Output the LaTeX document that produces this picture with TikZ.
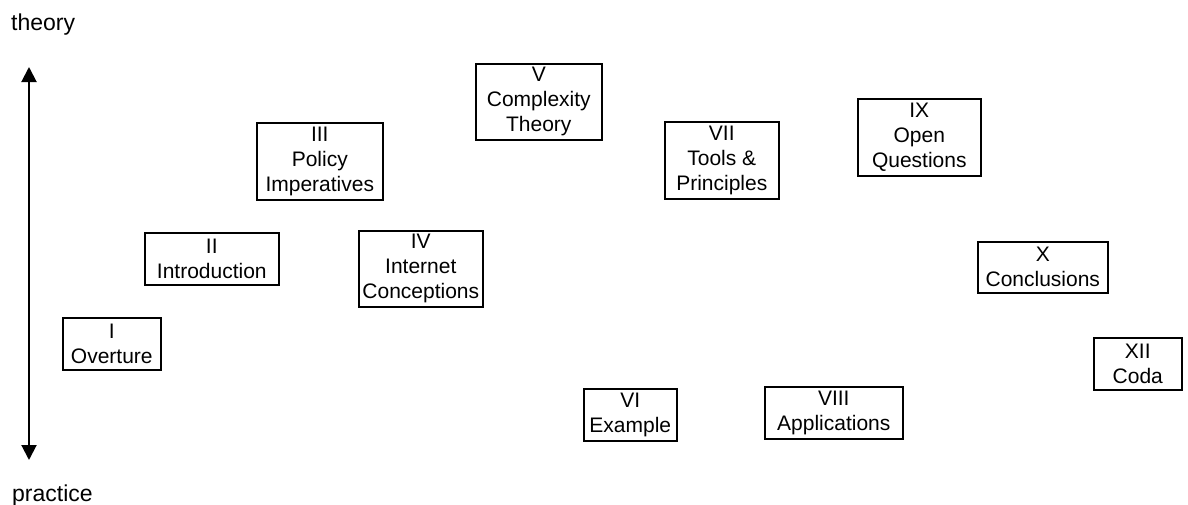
\documentclass[tikz,border=0pt]{standalone}
\usepackage{fontspec}
\setmainfont{Liberation Sans}
\usetikzlibrary{arrows.meta}
\tikzset{
  chapter/.style={draw, line width=1.6pt, anchor=north west, inner sep=0pt,
    align=center, font=\fontsize{21}{25}\selectfont},
  axislabel/.style={anchor=base west, inner sep=0pt, font=\fontsize{23}{27}\selectfont},
  axis/.style={line width=2pt, {Triangle[length=15pt,width=15pt]}-{Triangle[length=15pt,width=15pt]}}
}
\begin{document}
\begin{tikzpicture}[x=1pt,y=-1pt]
\useasboundingbox (0,0) rectangle (1188,504);
% theory/practice axis
\coordinate (top) at (29,67);
\coordinate (bottom) at (29,460);
\draw[axis] (top) -- (bottom);
\node[axislabel] (theory) at (11,30) {theory};
\node[axislabel] (practice) at (12,501) {practice};
% chapters
\node[chapter, minimum width=98pt,  minimum height=52pt] (c1)  at (62,317)   {I\\Overture};
\node[chapter, minimum width=134pt, minimum height=52pt] (c2)  at (144,232)  {II\\Introduction};
\node[chapter, minimum width=126pt, minimum height=77pt] (c3)  at (256,122)  {III\\Policy\\Imperatives};
\node[chapter, minimum width=124pt, minimum height=76pt] (c4)  at (358,230)  {IV\\Internet\\Conceptions};
\node[chapter, minimum width=126pt, minimum height=76pt] (c5)  at (475,63)   {V\\Complexity\\Theory};
\node[chapter, minimum width=93pt,  minimum height=52pt] (c6)  at (583,388)  {VI\\Example};
\node[chapter, minimum width=114pt, minimum height=77pt] (c7)  at (664,121)  {VII\\Tools \&\\Principles};
\node[chapter, minimum width=138pt, minimum height=52pt] (c8)  at (764,386)  {VIII\\Applications};
\node[chapter, minimum width=123pt, minimum height=77pt] (c9)  at (857,98)   {IX\\Open\\Questions};
\node[chapter, minimum width=130pt, minimum height=51pt] (c10) at (977,241)  {X\\Conclusions};
\node[chapter, minimum width=88pt,  minimum height=52pt] (c12) at (1093,337) {XII\\Coda};
\end{tikzpicture}
\end{document}
